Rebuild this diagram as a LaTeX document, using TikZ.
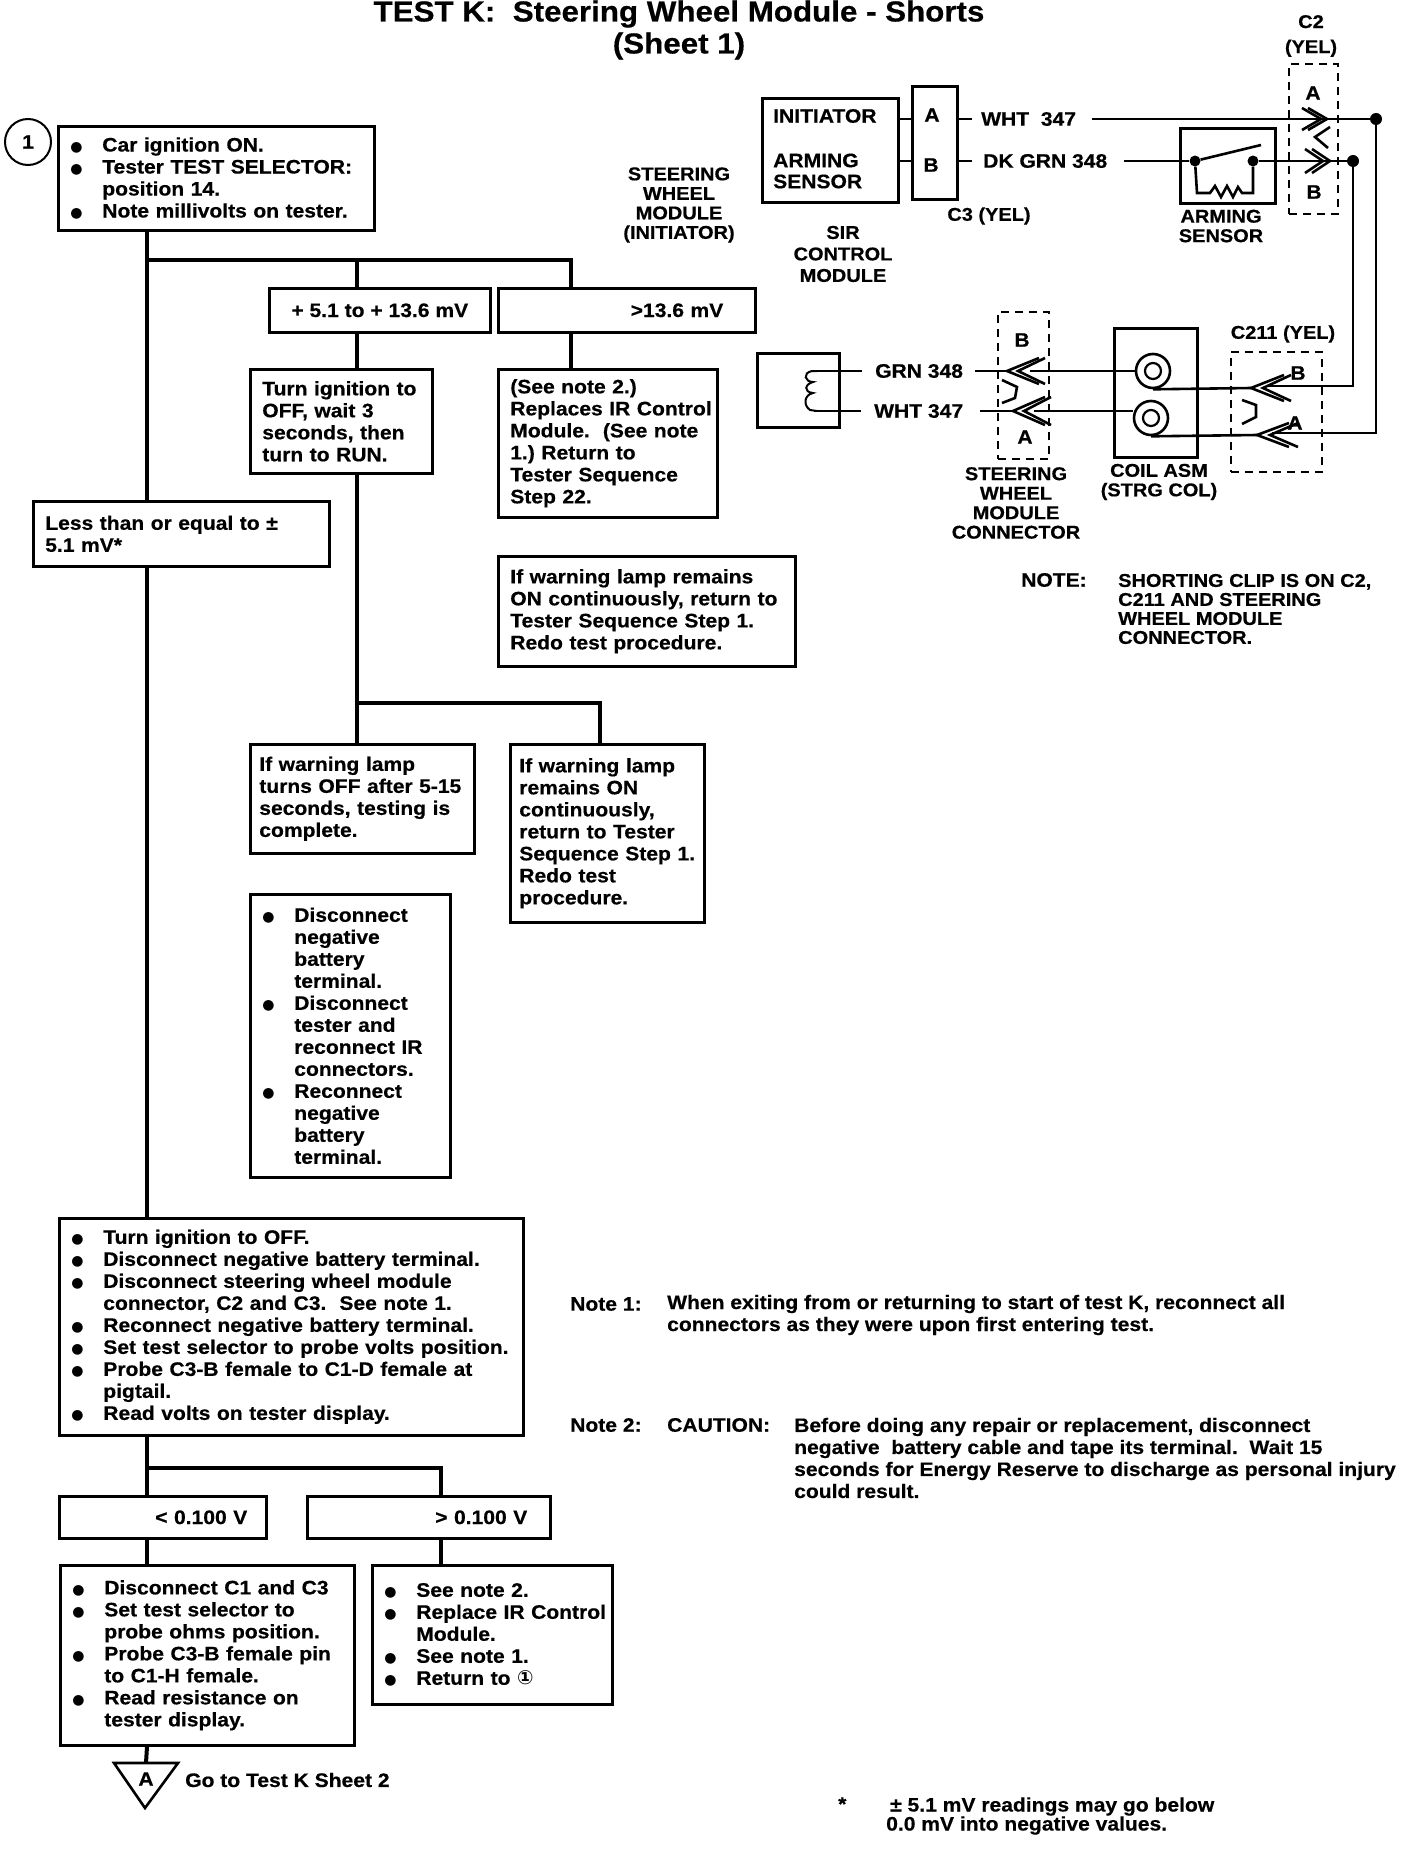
\documentclass[tikz,border=0pt]{standalone}
\usepackage{fontspec}
\setmainfont[FakeStretch=1.08, BoldFeatures={FakeStretch=1.08, FakeBold=0.5}]{Liberation Sans}
\newfontfamily\symfont{DejaVu Sans}
\usetikzlibrary{positioning, calc}
\newcommand{\bul}{\makebox[32pt][l]{\symfont\fontsize{14}{22}\selectfont ●}}
\newcommand{\ind}{\hspace*{32pt}}
\tikzset{
  stepbox/.style={
    draw, line width=2.6pt, fill=white, anchor=north west, align=left,
    inner xsep=12pt, inner ysep=0pt, font=\fontsize{19.5}{22}\selectfont\bfseries
  },
  lblbox/.style={
    draw, line width=2.6pt, fill=white, anchor=north west, align=right,
    inner ysep=0pt, font=\fontsize{19.5}{22}\selectfont\bfseries
  },
  flow/.style={line width=4pt},
  wire/.style={line width=2.6pt},
  dashbox/.style={draw, dashed, line width=2.2pt, dash pattern=on 8pt off 6pt},
  lab/.style={font=\fontsize{18.5}{19.5}\selectfont\bfseries, align=center, inner sep=0pt},
  txt/.style={font=\fontsize{19.5}{22}\selectfont\bfseries, align=left, inner sep=0pt, anchor=west},
  dot/.style={circle, fill=black, inner sep=0pt, minimum size=12pt},
  plainbox/.style={draw, line width=2.6pt, anchor=north west, inner sep=0pt}
}
\begin{document}
\begin{tikzpicture}[x=1pt, y=-1pt]
  \useasboundingbox (0,0) rectangle (1408,1868);
  \fill[white] (0,0) rectangle (1408,1868);
  % title
  \node[font=\fontsize{29}{32}\selectfont\bfseries, align=center, inner sep=0pt] (title) at (679,30)
    {TEST K:\ \ Steering Wheel Module - Shorts\\(Sheet 1)};
  % flow chart boxes
  \node[circle, draw, line width=2pt, minimum size=46pt, inner sep=0pt, font=\fontsize{19.5}{22}\selectfont\bfseries] (one) at (28,142) {1};
  \node[stepbox, text width=292pt, minimum height=104pt] (start) at (57,125)
    {\bul Car ignition ON.\\\bul Tester TEST SELECTOR:\\\ind position 14.\\\bul Note millivolts on tester.};
  \node[lblbox, minimum width=221pt, align=center, minimum height=44pt] (mid) at (268,287) {+ 5.1 to + 13.6 mV};
  \node[lblbox, inner xsep=32pt, text width=193pt, minimum height=44pt] (high) at (497,287) {>13.6 mV};
  \node[stepbox, text width=158pt, minimum height=104pt] (runb) at (249,368)
    {Turn ignition to\\OFF, wait 3\\seconds, then\\turn to RUN.};
  \node[stepbox, text width=272pt, minimum height=65pt] (low) at (32,500)
    {Less than or equal to ±\\5.1 mV*};
  \node[stepbox, inner xsep=3pt, text width=213pt, minimum height=148pt] (repl) at (497,368)
    {\hspace*{9pt}(See note 2.)\\\hspace*{9pt}Replaces IR Control\\\hspace*{9pt}Module.\ \ (See note\\\hspace*{9pt}1.)\ Return to\\\hspace*{9pt}Tester Sequence\\\hspace*{9pt}Step 22.};
  \node[stepbox, text width=273pt, minimum height=110pt] (redoa) at (497,555)
    {If warning lamp remains\\ON continuously, return to\\Tester Sequence Step 1.\\Redo test procedure.};
  \node[stepbox, inner xsep=9pt, text width=206pt, minimum height=109pt] (lampoff) at (249,743)
    {If warning lamp\\turns OFF after 5-15\\seconds, testing is\\complete.};
  \node[stepbox, inner xsep=9pt, text width=176pt, minimum height=178pt] (lampon) at (509,743)
    {If warning lamp\\remains ON\\continuously,\\return to Tester\\Sequence Step 1.\\Redo test\\procedure.};
  \node[stepbox, text width=176pt, minimum height=283pt] (batt) at (249,893)
    {\bul Disconnect\\\ind negative\\\ind battery\\\ind terminal.\\\bul Disconnect\\\ind tester and\\\ind reconnect IR\\\ind connectors.\\\bul Reconnect\\\ind negative\\\ind battery\\\ind terminal.};
  \node[stepbox, text width=440pt, minimum height=217pt] (off) at (58,1217)
    {\bul Turn ignition to OFF.\\\bul Disconnect negative battery terminal.\\\bul Disconnect steering wheel module\\\ind connector, C2 and C3.\ \ See note 1.\\\bul Reconnect negative battery terminal.\\\bul Set test selector to probe volts position.\\\bul Probe C3-B female to C1-D female at\\\ind pigtail.\\\bul Read volts on tester display.};
  \node[lblbox, inner xsep=19pt, text width=169pt, minimum height=42pt] (vlow) at (58,1495) {< 0.100 V};
  \node[lblbox, inner xsep=23pt, text width=197pt, minimum height=42pt] (vhigh) at (306,1495) {> 0.100 V};
  \node[stepbox, text width=270pt, minimum height=180pt] (ohms) at (59,1564)
    {\bul Disconnect C1 and C3\\\bul Set test selector to\\\ind probe ohms position.\\\bul Probe C3-B female pin\\\ind to C1-H female.\\\bul Read resistance on\\\ind tester display.};
  \node[stepbox, inner xsep=5pt, text width=230pt, minimum height=139pt] (ret) at (371,1564)
    {\hspace*{7pt}\bul See note 2.\\\hspace*{7pt}\bul Replace IR Control\\\hspace*{7pt}\ind Module.\\\hspace*{7pt}\bul See note 1.\\\hspace*{7pt}\bul Return to {\symfont ①}};
  % off-sheet triangle
  \coordinate (trit) at (146,1763);
  \draw[wire, line join=miter] (114,1763) -- (178,1763) -- (145,1808) -- cycle;
  \node[txt, anchor=center] (tria) at (146,1779) {A};
  \node[txt] (gosheet) at (185,1780) {Go to Test K Sheet 2};
  % flow lines
  \coordinate (main) at (147,0);
  \coordinate (midx) at (357,0);
  \coordinate (highx) at (571,0);
  \coordinate (onx) at (600,0);
  \coordinate (vhx) at (441,0);
  \coordinate (jtop) at (147,260);
  \coordinate (jlamp) at (357,703);
  \coordinate (jv) at (147,1468);
  \draw[flow] (start.south -| main) -- (low.north -| main);
  \draw[flow] (low.south -| main) -- (off.north -| main);
  \draw[flow] (jtop) -| (mid.north -| midx);
  \draw[flow] (jtop) -| (high.north -| highx);
  \draw[flow] (mid.south -| midx) -- (runb.north -| midx);
  \draw[flow] (high.south -| highx) -- (repl.north -| highx);
  \draw[flow] (runb.south -| midx) -- (lampoff.north -| midx);
  \draw[flow] (jlamp) -| (lampon.north -| onx);
  \draw[flow] (off.south -| main) -- (vlow.north -| main);
  \draw[flow] (jv) -| (vhigh.north -| vhx);
  \draw[flow] (vlow.south -| main) -- (ohms.north -| main);
  \draw[flow] (vhigh.south -| vhx) -- (ret.north -| vhx);
  \draw[flow] (ohms.south -| main) -- (trit);
  \begin{scope}[xshift=-3pt]
  % upper schematic
  \node[plainbox, minimum width=136pt, minimum height=104pt] (sir) at (764,97) {};
  \node[plainbox, minimum width=45pt, minimum height=113pt] (cthree) at (914,85) {};
  \node[txt] (initr) at (776,116) {INITIATOR};
  \node[txt, font=\fontsize{19.5}{21}\selectfont\bfseries] (armr) at (776,171) {ARMING\\SENSOR};
  \node[txt, anchor=center] (cta) at (935,115) {A};
  \node[txt, anchor=center] (ctb) at (934,165) {B};
  \node[txt] (wht) at (984,119) {WHT\ \ 347};
  \node[txt] (dkg) at (986,161) {DK GRN 348};
  \node[lab] (cylab) at (992,216) {C3 (YEL)};
  \node[lab, font=\fontsize{18.5}{21.5}\selectfont\bfseries] (sirlab) at (846,254) {SIR\\CONTROL\\MODULE};
  \node[plainbox, minimum width=95pt, minimum height=75pt] (sens) at (1182,127) {};
  \node[lab] (senslab) at (1224,226) {ARMING\\SENSOR};
  \node[dashbox, minimum width=49pt, minimum height=150pt, anchor=north west, inner sep=0pt] (ctwo) at (1291,63) {};
  \node[lab, font=\fontsize{18.5}{25}\selectfont\bfseries] (ctwolab) at (1314,36) {C2\\(YEL)};
  \node[txt, anchor=center] (c2a) at (1316,93) {A};
  \node[txt, anchor=center] (c2b) at (1317,192) {B};
  \node[dot] (ja) at (1379,119) {};
  \node[dot] (jb) at (1356,161) {};
  \node[dot, minimum size=11pt] (sl) at (1198,161) {};
  \node[dot, minimum size=11pt] (sr) at (1256,161) {};
  \draw[wire] (sir.east |- wht.west) -- (cthree.west |- wht.west);
  \draw[wire] (sir.east |- dkg.west) -- (cthree.west |- dkg.west);
  \draw[wire] (cthree.east |- wht.west) -- +(13,0);
  \draw[wire] (cthree.east |- dkg.west) -- +(13,0);
  \draw[wire, shorten <=16pt] (wht.east) -- (ja);
  \draw[wire, shorten <=17pt] (dkg.east) -- (sl);
  \draw[wire] (sr) -- (jb);
  \draw[wire] (sl) -- (1264,145);
  \draw[wire] (sl) -- (1200,193) -- (1213,193) -- (1218,186) -- (1224,197) -- (1230,186) -- (1236,197) -- (1241,187) -- (1245,193) -- (1256,193) -- (sr);
  % lower schematic
  \node[plainbox, minimum width=82pt, minimum height=74pt] (init) at (759,352) {};
  \node[txt] (grn) at (878,371) {GRN 348};
  \node[txt] (whb) at (877,411) {WHT 347};
  \draw[wire, shorten >=13pt] (817,371) -- (grn.west);
  \draw[wire, shorten >=13pt] (817,411) -- (whb.west);
  \draw[line width=2pt] (820,371) -- (815,371) .. controls (805,373) and (808,382) .. (816,382)
    .. controls (808,384) and (806,392) .. (816,393) .. controls (807,395) and (806,405) .. (813,410) -- (820,411);
  \node[dashbox, minimum width=51pt, minimum height=147pt, anchor=north west, inner sep=0pt] (swc) at (1000,311) {};
  \node[txt, anchor=center] (swb) at (1025,340) {B};
  \node[txt, anchor=center] (swa) at (1028,437) {A};
  \node[lab] (swclab) at (1019,503) {STEERING\\WHEEL\\MODULE\\CONNECTOR};
  \node[plainbox, minimum width=83pt, minimum height=129pt] (coil) at (1116,327) {};
  \node[circle, draw, line width=2.6pt, minimum size=34pt, inner sep=0pt] (ringb) at (1156,371) {};
  \node[circle, draw, line width=2.6pt, minimum size=34pt, inner sep=0pt] (ringa) at (1154,418) {};
  \draw[line width=2.2pt] (ringb) circle (8pt);
  \draw[line width=2.2pt] (ringa) circle (8pt);
  \node[lab] (coillab) at (1162,482) {COIL ASM\\(STRG COL)};
  \node[dashbox, minimum width=91pt, minimum height=120pt, anchor=north west, inner sep=0pt] (ctoe) at (1233,351) {};
  \node[lab] (ctoelab) at (1286,334) {C211 (YEL)};
  \node[txt, anchor=center] (ceb) at (1301,373) {B};
  \node[txt, anchor=center] (cea) at (1298,423) {A};
  \coordinate (pina) at (1037,411);
  \coordinate (pinb) at (1033,371);
  \coordinate (pinc) at (1269,386);
  \coordinate (pind) at (1275,433);
  \draw[wire, shorten <=17pt] (whb.east) -- (1016,411);
  \draw[wire, shorten <=12pt] (grn.east) -- (1010,371);
  \draw[wire] (pinb) -- (ringb.west);
  \draw[wire] (pina) -- (pina -| ringa.west);
  \draw[wire] (ringb.south) -- (1254,388);
  \draw[wire] (ringa.south) -- (1260,435);
  \draw[wire] (jb) |- (pinc);
  \draw[wire] (ja) |- (pind);
  % connector chevrons
  \foreach \tx/\ty/\dx/\dy in {1010/371/32/13, 1021/371/27/13, 1016/411/32/14, 1027/411/27/14,
      1254/388/33/13, 1266/388/28/13, 1260/435/32/12, 1273/435/28/12}
    \draw[wire] (\tx+\dx,\ty-\dy) -- (\tx,\ty) -- (\tx+\dx,\ty+\dy);
  \foreach \tx/\ty/\dx/\dy in {1324/119/19/11, 1330/119/19/11, 1326/161/18/12, 1333/161/18/12}
    \draw[wire] (\tx-\dx,\ty-\dy) -- (\tx,\ty) -- (\tx-\dx,\ty+\dy);
  % shorting clips
  \draw[wire] (1333,127) -- (1318,137) -- (1331,148);
  \draw[wire] (1005,380) -- (1020,387) -- (1018,398) -- (1005,403);
  \draw[wire] (1245,400) -- (1259,405) -- (1259,417) -- (1245,424);
  \end{scope}
  \node[lab] (swlab) at (679,205) {STEERING\\WHEEL\\MODULE\\(INITIATOR)};
  % notes
  \node[txt] (notehd) at (1021,580) {NOTE:};
  \node[txt, font=\fontsize{18.5}{19}\selectfont\bfseries] (notetx) at (1118,609) {SHORTING CLIP IS ON C2,\\C211 AND STEERING\\WHEEL MODULE\\CONNECTOR.};
  \node[txt] (noa) at (570,1304) {Note 1:};
  \node[txt] (noatx) at (667,1315) {When exiting from or returning to start of test K, reconnect all\\connectors as they were upon first entering test.};
  \node[txt] (nob) at (570,1425) {Note 2:};
  \node[txt] (caut) at (667,1425) {CAUTION:};
  \node[txt] (nobtx) at (794,1458) {Before doing any repair or replacement, disconnect\\negative\ \ battery cable and tape its terminal.\ \ Wait 15\\seconds for Energy Reserve to discharge as personal injury\\could result.};
  \node[txt] (star) at (838,1804) {*};
  \node[txt, font=\fontsize{19.5}{19}\selectfont\bfseries] (startx) at (886,1816) {\hspace*{4pt}± 5.1 mV readings may go below\\0.0 mV into negative values.};
\end{tikzpicture}
\end{document}
